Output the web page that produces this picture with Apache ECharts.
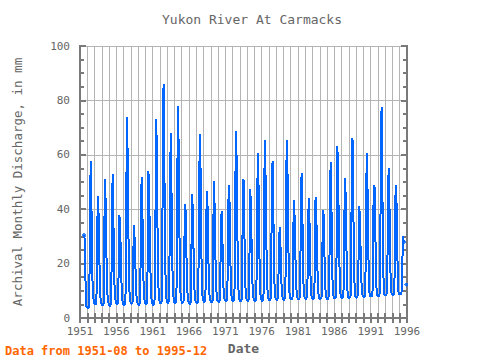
<!DOCTYPE html>
<html>
<head>
<meta charset="utf-8">
<script src="https://cdn.jsdelivr.net/npm/echarts@6/dist/echarts.min.js"></script>
<style>
html,body{margin:0;padding:0;background:#fff;}
#c{width:480px;height:360px;}
#c svg path{shape-rendering:crispEdges;}
</style>
</head>
<body>
<div id="c"></div>
<script>
// Monthly discharge (mm), series begins 1951-08
const startYear = 1951;
const startMonth = 8;
const d1951 = [30.5, 28.3, 14.5, 5.0, 4.0];
const d1950s = [
  3.9,3.6,3.5,4.2,21,49.6,57.7,39.3,20,10.3,7.4,5.8,
  5.2,4.8,4.7,5.5,18,39,45,34,22,11,7,5.8,
  5,4.6,4.5,5.2,24,51,46,33,19,10,6.8,5.5,
  4.8,4.4,4.3,5,16,42,53,38,24,12,7.5,6,
  5.2,4.9,4.8,5.6,21,38,35,27,17,9.5,6.5,5.4,
  4.9,4.6,4.5,5.3,26,60,74,50,31,15,8,6.2,
  5.5,5.1,5,6,22,34,30,24,15,9,6.6,5.6,
  5,4.7,4.6,5.4,19,45,52,40,25,12,7.3,5.9
];
const d1960s = [
  5.2,4.8,4.8,5.6,28,54,47,35,21,11,7.2,5.8,
  5.1,4.7,4.6,5.5,22,47,73,56,33,16,8.4,6.4,
  5.6,5.2,5.1,6,30,68,86,62,40,18,9,6.8,
  5.8,5.3,5.2,6.2,26,55,68,48,29,14,8.5,6.6,
  5.6,5.2,5.1,6,20,58,78,60,36,17,9,6.8,
  5.7,5.3,5.2,6.2,19,37,42,33,21,11,7.6,6.2,
  5.5,5.1,5,6,24,45.6,41,31,19,10.5,7.4,6,
  5.6,5.2,5.1,6.1,23,52,67.6,55,33,16,8.8,6.7,
  6.2,5.8,5.7,6.6,21,41,46.7,37,22,12,8,6.6,
  6,5.6,5.5,6.5,27,50.5,44,30,19,11,7.8,6.4
];
const d1970s = [
  6.1,5.7,5.6,6.6,20,36,39.3,31,20,11,7.9,6.5,
  6.3,5.9,5.8,6.8,18,42,49,42,27,13,8.3,6.8,
  6.4,6,5.9,7,29,60,68.8,50,30,15,8.9,7,
  6.6,6.1,6,7,22,45,51,40,24,12.5,8.4,7,
  6.5,6,5.9,7,25,47.4,43,32,20,11.5,8.2,6.8,
  6.4,6,5.9,7,21,50,60.6,46,28,14,8.6,7,
  6.7,6.2,6.1,7.2,30,65.4,58,42,25,13,8.7,7.1,
  6.8,6.3,6.2,7.3,24,50,57.7,44,27,13.5,8.8,7.2,
  7,6.5,6.4,7.5,18,30,33.5,27,18,11,8.2,7,
  7,6.6,6.5,7.6,27,58,65.4,47,29,14.5,9,7.4
];
const d1980s = [
  7.2,6.7,6.6,7.7,23,43.4,40,31,20,12,8.6,7.3,
  7.1,6.6,6.5,7.6,21,46,53.3,41,26,13,8.8,7.4,
  7.3,6.8,6.7,7.8,17,38,44,35,22,12,8.6,7.3,
  7.2,6.7,6.6,7.7,26,44.6,40,30,19,11.5,8.5,7.2,
  7.3,6.8,6.7,7.8,20,36,39.7,31,20,11.5,8.5,7.3,
  7.4,6.9,6.8,8,22,47,57.5,45,28,14,9,7.6,
  7.5,7,6.9,8.1,31,63.2,55,40,25,13.5,9,7.6,
  7.6,7.1,7,8.2,20,44,51.4,41,26,13,9,7.6,
  7.7,7.2,7.1,8.3,28,57,66,48,29,14.5,9.3,7.8,
  7.9,7.4,7.3,8.5,22,41.3,38,29,19,12,9,7.8
];
const d1990s = [
  8,7.5,7.4,8.6,25,52,60.5,44,27,14,9.4,8,
  8.2,7.7,7.6,8.8,23,49,47,48,28,14,9.5,8.1,
  8.3,7.8,7.7,9,29,62,77.7,55,33,16,10,8.4,
  8.6,8.1,8,9.2,26,50,55.3,42,26,14,9.8,8.4,
  8.7,8.2,8.1,9.3,24,45,49,39,25,13.5,9.6,8.4,
  9,8.5,8.4,9.5,11.5,30,30,28,null,null,null,12.3
];
const yTicks = [0, 20, 40, 60, 80, 100];
const xLabelYears = [1951, 1956, 1961, 1966, 1971, 1976, 1981, 1986, 1991, 1996];

const values = [].concat(d1951, d1950s, d1960s, d1970s, d1980s, d1990s);
const seriesData = values.map((v, i) => {
  const m = startMonth - 1 + i;
  const x = startYear + m / 12;
  return [x, v === null ? '-' : v];
});
// points at the ends of runs (start/end of record or next to a gap) get a marker
const endPoints = seriesData.filter((p, i) => {
  if (p[1] === '-') return false;
  const prev = i > 0 ? values[i - 1] : null;
  const next = i < values.length - 1 ? values[i + 1] : null;
  return prev === null || next === null;
});

const FONT = 'DejaVu Sans Mono';
const GRAY = '#666666';
const AXIS = '#7a7a7a';
const BLUE = '#0066ff';

const chart = echarts.init(document.getElementById('c'), null, {renderer: 'svg'});
chart.setOption({
  animation: false,
  backgroundColor: '#ffffff',
  title: {
    text: 'Yukon River At Carmacks',
    left: 157, top: 8,
    textStyle: {fontFamily: FONT, fontSize: 13, fontWeight: 'normal', color: GRAY}
  },
  graphic: [{
    type: 'text', left: 5, top: 345,
    style: {text: 'Data from 1951-08 to 1995-12', fill: '#ff6600',
            font: 'bold 12px "DejaVu Sans Mono"'}
  }],
  grid: {left: 80, right: 73, top: 46, bottom: 42, containLabel: false},
  xAxis: [{
    type: 'value', min: 1951, max: 1996, interval: 1,
    name: 'Date', nameLocation: 'middle', nameGap: 22,
    nameTextStyle: {fontFamily: FONT, fontSize: 13, fontWeight: 'bold', color: GRAY},
    axisLine: {show: true, lineStyle: {color: AXIS, width: 2}},
    axisTick: {show: true, inside: true, length: 5, lineStyle: {color: AXIS, width: 2}},
    axisLabel: {
      fontFamily: FONT, fontSize: 11, color: GRAY, margin: 8,
      formatter: v => xLabelYears.indexOf(Math.round(v)) >= 0 && Math.abs(v - Math.round(v)) < 1e-6 ? String(Math.round(v)) : ''
    },
    splitLine: {show: true, lineStyle: {color: '#b4b4b4', width: 1}}
  }, {
    type: 'value', position: 'top', min: 1951, max: 1996, interval: 1,
    axisLine: {show: true, lineStyle: {color: AXIS, width: 2}},
    axisTick: {show: true, inside: true, length: 5, lineStyle: {color: AXIS, width: 2}},
    axisLabel: {show: false}, splitLine: {show: false}
  }],
  yAxis: [{
    type: 'value', min: yTicks[0], max: yTicks[yTicks.length - 1], interval: 20,
    name: 'Archival Monthly Discharge, in mm', nameLocation: 'middle', nameGap: 56,
    nameTextStyle: {fontFamily: FONT, fontSize: 12.5, color: GRAY},
    axisLine: {show: true, lineStyle: {color: AXIS, width: 2}},
    axisTick: {show: true, inside: true, length: 6, lineStyle: {color: AXIS, width: 2}},
    minorTick: {show: true, splitNumber: 4, length: 4, lineStyle: {color: AXIS, width: 2}},
    axisLabel: {fontFamily: FONT, fontSize: 11, color: GRAY, margin: 10},
    splitLine: {show: true, lineStyle: {color: '#b4b4b4', width: 1}}
  }, {
    type: 'value', position: 'right', min: 0, max: 100, interval: 20,
    axisLine: {show: true, lineStyle: {color: AXIS, width: 2}},
    axisTick: {show: true, inside: true, length: 6, lineStyle: {color: AXIS, width: 2}},
    minorTick: {show: true, splitNumber: 4, length: 4, lineStyle: {color: AXIS, width: 2}},
    axisLabel: {show: false}, splitLine: {show: false}
  }],
  series: [{
    type: 'line',
    data: seriesData,
    xAxisIndex: 0, yAxisIndex: 0,
    connectNulls: false,
    showSymbol: false,
    lineStyle: {color: BLUE, width: 2},
    itemStyle: {color: BLUE},
    silent: true
  }, {
    type: 'scatter',
    data: endPoints,
    symbol: 'circle', symbolSize: 4,
    itemStyle: {color: BLUE},
    silent: true
  }]
});
</script>
</body>
</html>
